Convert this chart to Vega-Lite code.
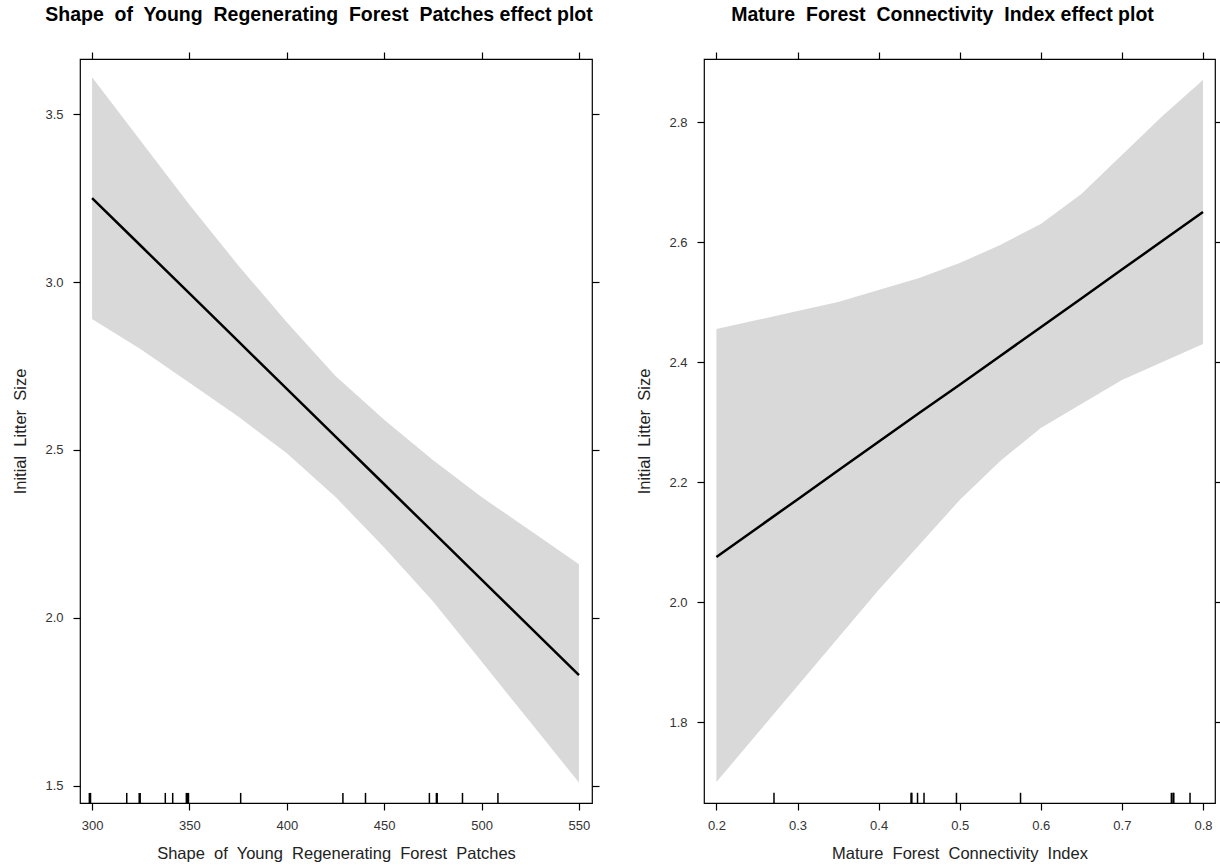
{
  "$schema": "https://vega.github.io/schema/vega-lite/v6.json",
  "autosize": {"type": "pad"},
  "padding": {"left": 12, "top": 4, "right": 0, "bottom": 0},
  "background": "white",
  "bounds": "flush",
  "spacing": 112,
  "config": {
    "view": {"stroke": "black", "strokeWidth": 1.2},
    "font": "Liberation Sans",
    "axis": {
      "grid": false,
      "domain": false,
      "tickColor": "black",
      "tickSize": 7,
      "tickWidth": 1.2,
      "labelFont": "Liberation Sans",
      "labelFontSize": 13,
      "labelColor": "#333333",
      "labelPadding": 9,
      "titleFont": "Liberation Sans",
      "titleFontSize": 16.5,
      "titleFontWeight": "normal",
      "titleColor": "#222222"
    },
    "title": {"font": "Liberation Sans", "fontSize": 19.5, "fontWeight": "bold", "color": "black", "anchor": "middle", "offset": 26}
  },
  "datasets": {
    "leftFit": [
      {"x": 300, "fit": 3.25, "lower": 2.89, "upper": 3.61},
      {"x": 325, "fit": 3.108, "lower": 2.80, "upper": 3.42},
      {"x": 350, "fit": 2.966, "lower": 2.70, "upper": 3.23},
      {"x": 375, "fit": 2.824, "lower": 2.60, "upper": 3.05},
      {"x": 400, "fit": 2.682, "lower": 2.49, "upper": 2.88},
      {"x": 425, "fit": 2.54, "lower": 2.36, "upper": 2.72},
      {"x": 450, "fit": 2.398, "lower": 2.21, "upper": 2.59},
      {"x": 475, "fit": 2.256, "lower": 2.05, "upper": 2.47},
      {"x": 500, "fit": 2.114, "lower": 1.87, "upper": 2.36},
      {"x": 525, "fit": 1.972, "lower": 1.69, "upper": 2.26},
      {"x": 550, "fit": 1.83, "lower": 1.51, "upper": 2.16}
    ],
    "leftRug": [
      {"x": 298.6}, {"x": 299.2}, {"x": 317.8}, {"x": 324.2}, {"x": 324.7}, {"x": 337.6}, {"x": 341.4},
      {"x": 348.4}, {"x": 349.0}, {"x": 349.5}, {"x": 376.3}, {"x": 428.8}, {"x": 440.4},
      {"x": 473.2}, {"x": 476.8}, {"x": 477.2}, {"x": 490.2}, {"x": 508.4}
    ],
    "rightFit": [
      {"x": 0.2, "fit": 2.075, "lower": 1.70, "upper": 2.455},
      {"x": 0.25, "fit": 2.123, "lower": 1.78, "upper": 2.47},
      {"x": 0.3, "fit": 2.171, "lower": 1.86, "upper": 2.485},
      {"x": 0.35, "fit": 2.219, "lower": 1.94, "upper": 2.50},
      {"x": 0.4, "fit": 2.267, "lower": 2.02, "upper": 2.52},
      {"x": 0.45, "fit": 2.315, "lower": 2.095, "upper": 2.54},
      {"x": 0.5, "fit": 2.362, "lower": 2.17, "upper": 2.565},
      {"x": 0.55, "fit": 2.41, "lower": 2.235, "upper": 2.595},
      {"x": 0.6, "fit": 2.458, "lower": 2.29, "upper": 2.63},
      {"x": 0.65, "fit": 2.506, "lower": 2.33, "upper": 2.68},
      {"x": 0.7, "fit": 2.554, "lower": 2.37, "upper": 2.745},
      {"x": 0.75, "fit": 2.602, "lower": 2.40, "upper": 2.81},
      {"x": 0.8, "fit": 2.65, "lower": 2.43, "upper": 2.87}
    ],
    "rightRug": [
      {"x": 0.271}, {"x": 0.440}, {"x": 0.441}, {"x": 0.448}, {"x": 0.456}, {"x": 0.496},
      {"x": 0.575}, {"x": 0.761}, {"x": 0.763}, {"x": 0.764}, {"x": 0.784}
    ]
  },
  "hconcat": [
    {
      "width": 512,
      "height": 744,
      "title": {"text": "Shape\u00a0 of\u00a0 Young\u00a0 Regenerating\u00a0 Forest\u00a0 Patches effect plot", "dx": -17},
      "resolve": {"axis": {"x": "independent", "y": "independent"}},
      "layer": [
        {
          "data": {"name": "leftFit"},
          "mark": {"type": "area", "color": "#d9d9d9", "opacity": 1},
          "encoding": {
            "x": {"field": "x", "type": "quantitative", "scale": {"domain": [293.8, 556.7], "nice": false, "zero": false},
                  "axis": {"orient": "bottom", "values": [300, 350, 400, 450, 500, 550], "title": "Shape\u00a0 of\u00a0 Young\u00a0 Regenerating\u00a0 Forest\u00a0 Patches", "titlePadding": 13}},
            "y": {"field": "lower", "type": "quantitative", "scale": {"domain": [1.449, 3.664], "nice": false, "zero": false},
                  "axis": {"orient": "left", "values": [1.5, 2.0, 2.5, 3.0, 3.5], "format": ".1f", "title": "Initial\u00a0 Litter\u00a0 Size", "titlePadding": 16, "labelPadding": 10}},
            "y2": {"field": "upper"}
          }
        },
        {
          "data": {"name": "leftFit"},
          "mark": {"type": "line", "color": "black", "strokeWidth": 2.5},
          "encoding": {
            "x": {"field": "x", "type": "quantitative", "axis": {"orient": "top", "values": [300, 350, 400, 450, 500, 550], "labels": false, "title": null}},
            "y": {"field": "fit", "type": "quantitative", "axis": {"orient": "right", "values": [1.5, 2.0, 2.5, 3.0, 3.5], "labels": false, "title": null}}
          }
        },
        {
          "data": {"name": "leftRug"},
          "mark": {"type": "rule", "color": "black", "strokeWidth": 1.5},
          "encoding": {
            "x": {"field": "x", "type": "quantitative", "axis": null},
            "y": {"datum": 1.449, "axis": null},
            "y2": {"datum": 1.479}
          }
        }
      ]
    },
    {
      "width": 511,
      "height": 744,
      "title": {"text": "Mature\u00a0 Forest\u00a0 Connectivity\u00a0 Index effect plot", "dx": -17},
      "resolve": {"axis": {"x": "independent", "y": "independent"}},
      "layer": [
        {
          "data": {"name": "rightFit"},
          "mark": {"type": "area", "color": "#d9d9d9", "opacity": 1},
          "encoding": {
            "x": {"field": "x", "type": "quantitative", "scale": {"domain": [0.1847, 0.8148], "nice": false, "zero": false},
                  "axis": {"orient": "bottom", "values": [0.2, 0.3, 0.4, 0.5, 0.6, 0.7, 0.8], "format": ".1f", "title": "Mature\u00a0 Forest\u00a0 Connectivity\u00a0 Index", "titlePadding": 13}},
            "y": {"field": "lower", "type": "quantitative", "scale": {"domain": [1.665, 2.905], "nice": false, "zero": false},
                  "axis": {"orient": "left", "values": [1.8, 2.0, 2.2, 2.4, 2.6, 2.8], "format": ".1f", "title": "Initial\u00a0 Litter\u00a0 Size", "titlePadding": 16, "labelPadding": 10}},
            "y2": {"field": "upper"}
          }
        },
        {
          "data": {"name": "rightFit"},
          "mark": {"type": "line", "color": "black", "strokeWidth": 2.5},
          "encoding": {
            "x": {"field": "x", "type": "quantitative", "axis": {"orient": "top", "values": [0.2, 0.3, 0.4, 0.5, 0.6, 0.7, 0.8], "labels": false, "title": null}},
            "y": {"field": "fit", "type": "quantitative", "axis": {"orient": "right", "values": [1.8, 2.0, 2.2, 2.4, 2.6, 2.8], "labels": false, "title": null}}
          }
        },
        {
          "data": {"name": "rightRug"},
          "mark": {"type": "rule", "color": "black", "strokeWidth": 1.5},
          "encoding": {
            "x": {"field": "x", "type": "quantitative", "axis": null},
            "y": {"datum": 1.665, "axis": null},
            "y2": {"datum": 1.682}
          }
        }
      ]
    }
  ]
}
